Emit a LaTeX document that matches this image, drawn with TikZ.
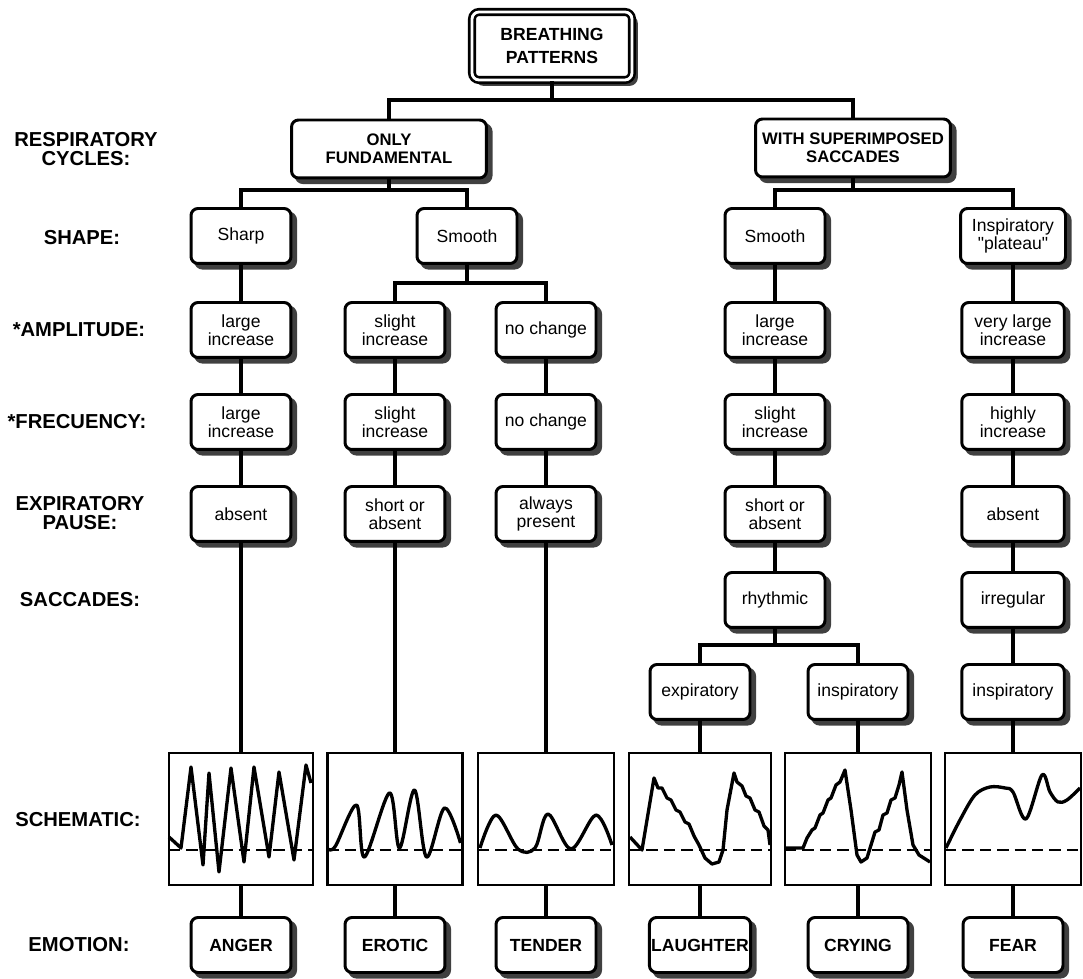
\documentclass[tikz,border=0pt]{standalone}
\usepackage{fontspec}
\setmainfont{Liberation Sans}[Ligatures=TeXOff]

\tikzset{
  box/.style={draw, line width=1.7pt, rounded corners=4pt, fill=white, align=center,
    minimum width=2cm, minimum height=1.1cm, inner sep=1pt,
    preaction={draw=black!75, fill=black!75, transform canvas={xshift=2.6pt, yshift=-2.6pt}},
    font=\fontsize{10}{10.5}\selectfont},
  headbox/.style={box, minimum width=3.9cm, minimum height=1.16cm,
    font=\fontsize{9.5}{10.5}\selectfont\bfseries},
  emobox/.style={box, font=\fontsize{10}{11}\selectfont\bfseries},
  schem/.style={draw, line width=1.6pt, fill=white, minimum height=2.64cm, inner sep=0pt},
  rowlabel/.style={align=center, font=\fontsize{11.5}{11}\selectfont\bfseries},
  link/.style={line width=1.8pt},
  wave/.style={line width=1.9pt, line join=round},
  base/.style={line width=1.3pt, dash pattern=on 6.5pt off 3.4pt}
}

\begin{document}
\begin{tikzpicture}[x=0.02cm, y=-0.02cm]
 \useasboundingbox (0,0) rectangle (1083,979);

 \node[rowlabel] (lcyc) at (86,149) {RESPIRATORY\\CYCLES:};
 \node[rowlabel] (lshape) at (82,238) {SHAPE:};
 \node[rowlabel] (lamp) at (79,330) {*AMPLITUDE:};
 \node[rowlabel] (lfrq) at (77,422) {*FRECUENCY:};
 \node[rowlabel] (lpau) at (80,513) {EXPIRATORY\\PAUSE:};
 \node[rowlabel] (lsac) at (80,600) {SACCADES:};
 \node[rowlabel] (lsch) at (78,820) {SCHEMATIC:};
 \node[rowlabel] (lemo) at (79,945) {EMOTION:};

 \node[box, double, double distance=1.6pt, line width=1.5pt, minimum width=3.2cm,
   minimum height=1.36cm, font=\fontsize{10}{13}\selectfont\bfseries] (bp) at (552,46) {BREATHING\\PATTERNS};
 \node[headbox] (only) at (389,149) {ONLY\\FUNDAMENTAL};
 \node[headbox] (sup) at (853,148) {WITH SUPERIMPOSED\\SACCADES};

 \node[box] (sharp) at (241,236) {Sharp};
 \node[box] (smoothA) at (467,236) {Smooth};
 \node[box] (smoothB) at (775,236) {Smooth};
 \node[box, minimum width=2.1cm] (plat) at (1013,236) {Inspiratory\\"plateau"};

 \node[box] (ampA) at (241,330) {large\\increase};
 \node[box] (ampB) at (395,330) {slight\\increase};
 \node[box] (ampC) at (546,330) {no change};
 \node[box] (ampD) at (775,330) {large\\increase};
 \node[box, minimum width=2.05cm] (ampE) at (1013,330) {very large\\increase};

 \node[box] (frqA) at (241,422) {large\\increase};
 \node[box] (frqB) at (395,422) {slight\\increase};
 \node[box] (frqC) at (546,422) {no change};
 \node[box] (frqD) at (775,422) {slight\\increase};
 \node[box, minimum width=2.05cm] (frqE) at (1013,422) {highly\\increase};

 \node[box] (pauA) at (241,514) {absent};
 \node[box] (pauB) at (395,514) {short or\\absent};
 \node[box] (pauC) at (546,514) {always\\present};
 \node[box] (pauD) at (775,514) {short or\\absent};
 \node[box, minimum width=2.05cm] (pauE) at (1013,514) {absent};

 \node[box] (rhy) at (775,600) {rhythmic};
 \node[box, minimum width=2.05cm] (irr) at (1013,600) {irregular};

 \node[box] (expi) at (700,692) {expiratory};
 \node[box] (inspi) at (858,692) {inspiratory};
 \node[box, minimum width=2.05cm] (inspj) at (1013,692) {inspiratory};

 \node[schem, minimum width=2.88cm] (schA) at (241,819) {};
 \node[schem, minimum width=2.7cm] (schB) at (395,819) {};
 \node[schem, minimum width=2.72cm] (schC) at (546,819) {};
 \node[schem, minimum width=2.84cm] (schD) at (700,819) {};
 \node[schem, minimum width=2.92cm] (schE) at (858,819) {};
 \node[schem, minimum width=2.72cm] (schF) at (1013,819) {};

 \node[emobox] (anger) at (241,945) {ANGER};
 \node[emobox] (erotic) at (395,945) {EROTIC};
 \node[emobox] (tender) at (546,945) {TENDER};
 \node[emobox] (laugh) at (700,945) {LAUGHTER};
 \node[emobox] (cry) at (858,945) {CRYING};
 \node[emobox] (fear) at (1013,945) {FEAR};

 \coordinate (j0) at (552,100);
 \coordinate (j1) at (389,190);
 \coordinate (j2) at (853,190);
 \coordinate (j3) at (467,283);
 \coordinate (j4) at (775,645);

 \draw[link] (bp) -- (j0) -| (only);
 \draw[link] (j0) -| (sup);
 \draw[link] (only) -- (j1) -| (sharp);
 \draw[link] (j1) -| (smoothA);
 \draw[link] (sup) -- (j2) -| (smoothB);
 \draw[link] (j2) -| (plat);
 \draw[link] (smoothA) -- (j3) -| (ampB);
 \draw[link] (j3) -| (ampC);
 \draw[link] (sharp) -- (ampA) -- (frqA) -- (pauA) -- (schA) -- (anger);
 \draw[link] (ampB) -- (frqB) -- (pauB) -- (schB) -- (erotic);
 \draw[link] (ampC) -- (frqC) -- (pauC) -- (schC) -- (tender);
 \draw[link] (smoothB) -- (ampD) -- (frqD) -- (pauD) -- (rhy);
 \draw[link] (rhy) -- (j4) -| (expi);
 \draw[link] (j4) -| (inspi);
 \draw[link] (expi) -- (schD) -- (laugh);
 \draw[link] (inspi) -- (schE) -- (cry);
 \draw[link] (plat) -- (ampE) -- (frqE) -- (pauE) -- (irr) -- (inspj) -- (schF) -- (fear);

 \begin{scope}[shift={(169,850)}]
  \draw[base] (0,0) -- (144,0);
  \draw[wave] plot coordinates {(0,-13) (12,-2) (22,-83) (34,15) (40,-77) (50,22) (62,-82)
    (75,12) (85,-83) (100,7) (110,-78) (125,10) (137,-85) (142,-67)};
 \end{scope}
 \begin{scope}[shift={(327.5,850)}]
  \draw[base] (0,0) -- (135,0);
  \draw[wave] plot[smooth, tension=0.55] coordinates {(1,-1) (8,-4) (29,-45) (37,7) (62,-57)
    (72,-2) (87,-60) (99,7) (117,-42) (133,-7)};
 \end{scope}
 \begin{scope}[shift={(478,850)}]
  \draw[base] (0,0) -- (136,0);
  \draw[wave] plot[smooth, tension=0.55] coordinates {(2,-2) (18,-35) (40,-1) (57,-2) (70,-36)
    (93,-1) (118,-35) (134,-5)};
 \end{scope}
 \begin{scope}[shift={(629,850)}]
  \draw[base] (0,0) -- (142,0);
  \draw[wave] plot coordinates {(1,-13) (13,0) (25,-72) (29,-62) (33,-62) (38,-52) (42,-50)
    (47,-40) (51,-38) (56,-28) (60,-26) (65,-14) (70,-5) (76,8) (83,14) (90,12) (94,0) (98,-40)
    (105,-77) (108,-68) (113,-64) (117,-54) (121,-52) (126,-40) (130,-38) (135,-24) (139,-20) (141,-5)};
 \end{scope}
 \begin{scope}[shift={(785,850)}]
  \draw[base] (0,0) -- (146,0);
  \draw[wave] plot coordinates {(1,-2) (18,-2) (22,-12) (27,-20) (30,-22) (35,-35) (38,-37)
    (43,-50) (46,-52) (51,-65) (55,-68) (60,-80) (66,-40) (72,5) (76,12) (82,8) (86,-5) (90,-18)
    (94,-20) (98,-35) (102,-37) (106,-50) (110,-52) (114,-65) (117,-78) (122,-40) (128,-5) (134,5) (145,12)};
 \end{scope}
 \begin{scope}[shift={(945,850)}]
  \draw[base] (0,0) -- (136,0);
  \draw[wave] plot[smooth, tension=0.55] coordinates {(1,-2) (15,-30) (30,-55) (45,-63) (60,-62)
    (68,-58) (81,-31) (97,-75) (105,-58) (113,-48) (122,-50) (135,-62)};
 \end{scope}
\end{tikzpicture}
\end{document}
